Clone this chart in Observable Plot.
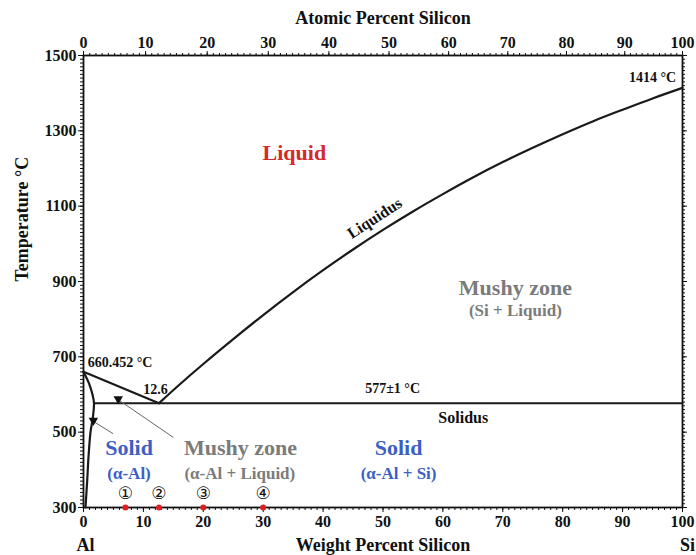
<!DOCTYPE html>
<html><head><meta charset="utf-8">
<script src="https://cdn.jsdelivr.net/npm/d3@7"></script>
<script src="https://cdn.jsdelivr.net/npm/@observablehq/plot@0.6"></script>
<style>body{margin:0;background:#fff}</style>
</head><body><div id="chart"></div>
<script>
// ---- data ----
const wtTicks = [0, 10, 20, 30, 40, 50, 60, 70, 80, 90, 100];
const atTicks = [0, 10, 20, 30, 40, 50, 60, 70, 80, 90, 100];
const tempTicks = [300, 500, 700, 900, 1100, 1300, 1500];

// liquidus, Al side
const liqAlX = [0, 12.6];
const liqAlT = [660.452, 577];
// liquidus, Si side
const liqSiX = [12.6, 16, 20, 25, 30, 35, 40, 45, 50, 55, 60, 65, 70, 75, 80, 85, 90, 95, 100];
const liqSiT = [577, 626, 681, 747, 811, 872, 930, 985, 1037, 1086, 1132, 1176, 1217, 1255, 1291, 1325, 1356, 1386, 1414];
// solidus + solvus of alpha-Al
const solAlX = [0, 0.9, 1.5, 1.75, 1.57, 1.17, 0.83, 0.62, 0.33];
const solAlT = [660.452, 630, 600, 577, 540, 500, 433, 372, 300];
// eutectic isotherm
const eutX = [1.75, 100];
const eutT = [577, 577];

// alloys marked on the axis
const alloyX = [7, 12.6, 20, 30];
const alloyT = [300, 300, 300, 300];
const alloyMarkT = [337, 337, 337, 337];
const alloyNames = ["①", "②", "③", "④"];

// leader lines (from label to arrowhead)
const leadX1 = [15, 4.95];
const leadT1 = [486, 496];
const leadX2 = [6, 1.9];
const leadT2 = [584, 526];
const headX = [5.8, 1.65];
const headT = [588, 531];

// annotation texts
const blackText = ["660.452 °C", "12.6", "577±1 °C", "1414 °C"];
const blackX = [0.7, 12.0, 51.6, 95.0];
const blackT = [685, 614, 616, 1442];
const blackAnchor = ["start", "middle", "middle", "middle"];

const MAl = 26.9815, MSi = 28.0855;
const toWt = a => 100 * a * MSi / (a * MSi + (100 - a) * MAl);

const pts = (xs, ts) => xs.map((x, i) => ({x, T: ts[i]}));

const serif = "'Liberation Serif', 'Times New Roman', serif";
const blue = "#3b5fc4", red = "#d42a2a", gray = "#7b7b7b";

const atPos = atTicks.map(toWt);
const atLabel = new Map(atPos.map((p, i) => [p, atTicks[i]]));
const fmt = d => String(d);

const chart = Plot.plot({
  width: 696,
  height: 555,
  marginLeft: 83,
  marginRight: 14,
  marginTop: 55,
  marginBottom: 48,
  style: {fontFamily: serif, fontSize: "16px", fontWeight: "bold", background: "#fff", color: "#111"},
  x: {domain: [0, 100]},
  y: {domain: [300, 1500]},
  marks: [
    // minor ticks
    Plot.axisX({anchor: "bottom", ticks: d3.range(0, 101, 1), tickSize: 3, text: null, label: null}),
    Plot.axisX({anchor: "top", ticks: d3.range(0, 101, 1).map(toWt), tickSize: 3, text: null, label: null}),
    Plot.axisY({anchor: "left", ticks: d3.range(300, 1501, 10), tickSize: 3, text: null, label: null}),
    Plot.axisY({anchor: "right", ticks: d3.range(300, 1501, 10), tickSize: 2, text: null, label: null}),
    // major ticks + labels
    Plot.axisX({anchor: "bottom", ticks: wtTicks, tickFormat: fmt, tickSize: 5, tickPadding: 3, label: null, fontSize: 16, fontWeight: "bold"}),
    Plot.axisX({anchor: "top", ticks: atPos, tickFormat: d => String(atLabel.get(d)), tickSize: 5, tickPadding: 3, label: null, fontSize: 16, fontWeight: "bold"}),
    Plot.axisY({anchor: "left", ticks: tempTicks, tickFormat: fmt, tickSize: 5, tickPadding: 2, label: null, fontSize: 16, fontWeight: "bold"}),
    Plot.axisY({anchor: "right", ticks: tempTicks, tickSize: 4, text: null, label: null}),
    Plot.frame({stroke: "#111", strokeWidth: 1.8}),

    // axis titles
    Plot.text(["Atomic Percent Silicon"], {frameAnchor: "top", dy: -37, lineAnchor: "middle", fontSize: 18, fontWeight: "bold"}),
    Plot.text(["Weight Percent Silicon"], {frameAnchor: "bottom", dy: 38, lineAnchor: "middle", fontSize: 18, fontWeight: "bold"}),
    Plot.text(["Al"], {frameAnchor: "bottom-left", dy: 38, dx: 2, lineAnchor: "middle", textAnchor: "middle", fontSize: 18, fontWeight: "bold"}),
    Plot.text(["Si"], {frameAnchor: "bottom-right", dy: 38, dx: 5, lineAnchor: "middle", textAnchor: "middle", fontSize: 18, fontWeight: "bold"}),
    Plot.text(["Temperature °C"], {frameAnchor: "left", dx: -61, rotate: -90, lineAnchor: "middle", fontSize: 18, fontWeight: "bold"}),

    // phase boundaries
    Plot.line(pts(liqAlX, liqAlT), {x: "x", y: "T", stroke: "#1a1a1a", strokeWidth: 2.2}),
    Plot.line(pts(liqSiX, liqSiT), {x: "x", y: "T", stroke: "#1a1a1a", strokeWidth: 2.2, curve: "natural"}),
    Plot.line(pts(solAlX, solAlT), {x: "x", y: "T", stroke: "#1a1a1a", strokeWidth: 2.2, curve: "catmull-rom"}),
    Plot.line(pts(eutX, eutT), {x: "x", y: "T", stroke: "#1a1a1a", strokeWidth: 2}),

    // leader lines and arrowheads
    Plot.link(leadX1.map((x, i) => ({x1: x, y1: leadT1[i], x2: leadX2[i], y2: leadT2[i]})), {x1: "x1", y1: "y1", x2: "x2", y2: "y2", stroke: "#666", strokeWidth: 1}),
    Plot.dot(pts(headX, headT), {x: "x", y: "T", symbol: "triangle2", r: 4.5, fill: "#111", rotate: 180}),

    // alloy markers
    Plot.dot(pts(alloyX, alloyT), {x: "x", y: "T", r: 3, fill: "#e02020"}),
    Plot.text(alloyX.map((x, i) => ({x, T: alloyMarkT[i], t: alloyNames[i]})), {x: "x", y: "T", text: "t", fontSize: 17, fontWeight: "normal", fontFamily: "'DejaVu Sans', sans-serif", fill: "#111"}),

    // black annotations
    Plot.text(blackText.map((t, i) => ({t, x: blackX[i], T: blackT[i], a: blackAnchor[i]})).filter(d => d.a === "start"), {x: "x", y: "T", text: "t", textAnchor: "start", fontSize: 14, fontWeight: "bold"}),
    Plot.text(blackText.map((t, i) => ({t, x: blackX[i], T: blackT[i], a: blackAnchor[i]})).filter(d => d.a === "middle"), {x: "x", y: "T", text: "t", fontSize: 14, fontWeight: "bold"}),
    Plot.text([{x: 48.6, T: 1068, t: "Liquidus"}], {x: "x", y: "T", text: "t", rotate: -33, fontSize: 16, fontWeight: "bold"}),
    Plot.text([{x: 63.4, T: 539, t: "Solidus"}], {x: "x", y: "T", text: "t", fontSize: 16, fontWeight: "bold"}),

    // region labels
    Plot.text([{x: 35.2, T: 1242, t: "Liquid"}], {x: "x", y: "T", text: "t", fill: red, fontSize: 22, fontWeight: "bold"}),
    Plot.text([{x: 72.1, T: 884, t: "Mushy zone"}, {x: 26.2, T: 457, t: "Mushy zone"}], {x: "x", y: "T", text: "t", fill: gray, fontSize: 22, fontWeight: "bold"}),
    Plot.text([{x: 72.1, T: 823, t: "(Si + Liquid)"}, {x: 26.1, T: 390, t: "(α-Al + Liquid)"}], {x: "x", y: "T", text: "t", fill: gray, fontSize: 17, fontWeight: "bold"}),
    Plot.text([{x: 7.6, T: 457, t: "Solid"}, {x: 52.6, T: 457, t: "Solid"}], {x: "x", y: "T", text: "t", fill: blue, fontSize: 22, fontWeight: "bold"}),
    Plot.text([{x: 7.6, T: 390, t: "(α-Al)"}, {x: 52.6, T: 390, t: "(α-Al + Si)"}], {x: "x", y: "T", text: "t", fill: blue, fontSize: 17, fontWeight: "bold"})
  ]
});
document.getElementById("chart").appendChild(chart);
</script>
</body></html>
